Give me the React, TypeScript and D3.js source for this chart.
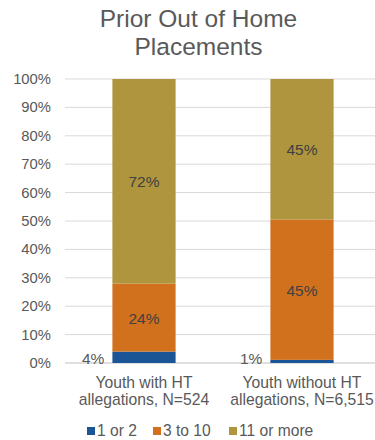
import React from "react";
import * as d3 from "d3";

const categories = ["Youth with HT allegations, N=524", "Youth without HT allegations, N=6,515"];
const categoryLines = [["Youth with HT", "allegations, N=524"], ["Youth without HT", "allegations, N=6,515"]];
const seriesNames = ["1 or 2", "3 to 10", "11 or more"];
const seriesColors = ["#1b5595", "#d1711d", "#ae953e"];
const values1or2 = [4, 1];
const values3to10 = [24, 45];
const values11plus = [72, 45];
const yTicks = [0, 0.1, 0.2, 0.3, 0.4, 0.5, 0.6, 0.7, 0.8, 0.9, 1];

export default function App() {
  const W = 375, H = 440;
  const m = { left: 65, top: 79, bottom: 77 };
  const x = d3.scaleBand().domain(categories).range([m.left, 381]).paddingInner(0.6).paddingOuter(0.3);
  const y = d3.scaleLinear().domain([0, 1]).range([H - m.bottom, m.top]);
  const rows = categories.map((c, i) => ({ cat: c, "1 or 2": values1or2[i], "3 to 10": values3to10[i], "11 or more": values11plus[i] }));
  const stack = d3.stack<any>().keys(seriesNames).offset(d3.stackOffsetExpand);
  const series = stack(rows);
  const font = "'Liberation Sans', Arial, Helvetica, sans-serif";
  const gray = "#595959";
  const legendX = [87, 153, 229];
  return (
    <svg width={W} height={H} style={{ position: "absolute", left: 0, top: 0 }} fontFamily={font}>
      <rect width={W} height={H} fill="#fff" />
      <text x={198.5} y={27} textAnchor="middle" fontSize={24.5} fill={gray}>Prior Out of Home</text>
      <text x={198.5} y={55} textAnchor="middle" fontSize={24.5} fill={gray}>Placements</text>
      {yTicks.map((t) => (
        <g key={t}>
          <line x1={m.left} x2={W} y1={y(t)} y2={y(t)} stroke={t === 0 ? "#bfbfbf" : "#d9d9d9"} strokeWidth={1} />
          <text x={51} y={y(t) + 5} textAnchor="end" fontSize={14.8} fill={gray}>{Math.round(t * 100)}%</text>
        </g>
      ))}
      {series.map((s, si) => (
        <g key={s.key}>
          {s.map((d, i) => (
            <rect key={i} x={x(categories[i])} width={x.bandwidth()} y={y(d[1])} height={y(d[0]) - y(d[1])} fill={seriesColors[si]} />
          ))}
        </g>
      ))}
      {series.map((s, si) =>
        s.map((d, i) => {
          const raw = [values1or2, values3to10, values11plus][si][i];
          if (si === 0) {
            return (
              <text key={`l${si}${i}`} x={(x(categories[i]) as number) - 8} y={y(0) + 1} textAnchor="end" fontSize={15.5} fill={gray}>{raw}%</text>
            );
          }
          return (
            <text key={`l${si}${i}`} x={(x(categories[i]) as number) + x.bandwidth() / 2} y={(y(d[0]) + y(d[1])) / 2 + 6} textAnchor="middle" fontSize={15.5} fill="#404040">{raw}%</text>
          );
        })
      )}
      {categoryLines.map((lines, i) => (
        <text key={i} x={(x(categories[i]) as number) + x.bandwidth() / 2} textAnchor="middle" fontSize={15.7} fill={gray}>
          <tspan x={(x(categories[i]) as number) + x.bandwidth() / 2} y={388}>{lines[0]}</tspan>
          <tspan x={(x(categories[i]) as number) + x.bandwidth() / 2} y={405}>{lines[1]}</tspan>
        </text>
      ))}
      {seriesNames.map((n, i) => (
        <g key={n}>
          <rect x={legendX[i]} y={427} width={8} height={8} fill={seriesColors[i]} />
          <text x={legendX[i] + 10} y={436} fontSize={15.6} fill={gray}>{n}</text>
        </g>
      ))}
    </svg>
  );
}
